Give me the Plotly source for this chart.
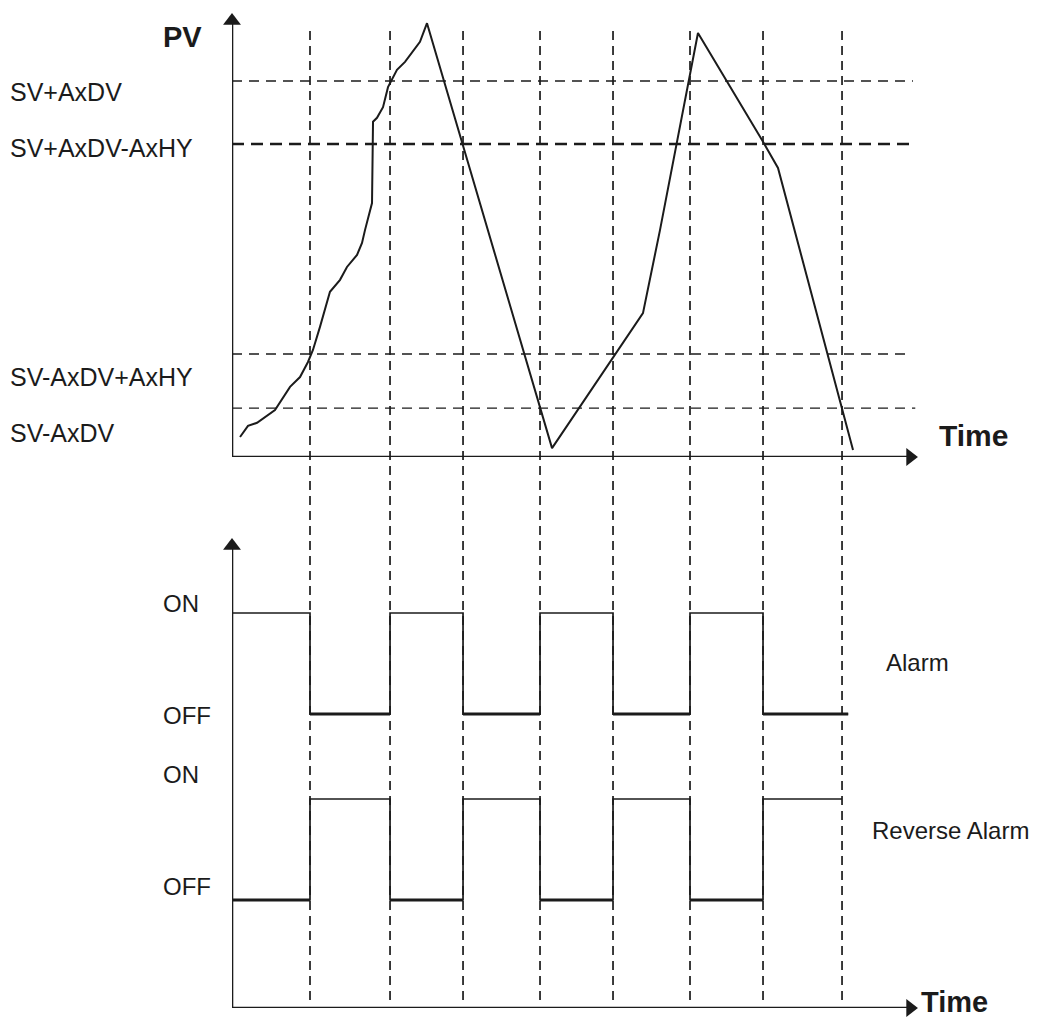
import plotly.graph_objects as go

W, H = 1049, 1023

# ---------------- data ----------------
pv_time = [1.03, 2.05, 3.21, 5.51, 7.44, 8.72, 9.74, 10.38, 11.28, 12.56, 13.85,
           14.74, 16.03, 16.67, 17.05, 17.95, 18.08, 18.59, 19.36, 20.0, 21.15,
           22.18, 24.10, 25.0, 41.03, 52.69, 54.87, 59.74, 67.95, 70.0, 79.62]
pv_value = [4.5, 7.0, 7.7, 10.6, 15.8, 18.0, 21.4, 24.1, 29.3, 37.2, 39.9,
            42.8, 45.5, 48.2, 51.1, 57.2, 75.5, 76.4, 78.8, 83.3, 87.2,
            89.0, 93.5, 97.7, 2.0, 32.4, 51.1, 95.5, 71.4, 65.1, 1.6]

threshold_labels = ["SV+AxDV", "SV+AxDV-AxHY", "SV-AxDV+AxHY", "SV-AxDV"]
threshold_values = [84.7, 70.5, 23.2, 11.0]

switch_times = [10.0, 20.26, 29.62, 39.49, 48.85, 58.72, 68.08, 78.21]

alarm_time = [0, 10.0, 20.26, 29.62, 39.49, 48.85, 58.72, 68.08, 79.0]
alarm_state = [1, 0, 1, 0, 1, 0, 1, 0, 0]
reverse_time = [0, 10.0, 20.26, 29.62, 39.49, 48.85, 58.72, 68.08, 78.21]
reverse_state = [0, 1, 0, 1, 0, 1, 0, 1, 1]

state_labels = ["ON", "OFF"]
signal_names = ["Alarm", "Reverse Alarm"]

# ---------------- styles ----------------
INK = "#1b1b1b"
FONT = "Liberation Sans, Arial, sans-serif"
thr_end = [87.3, 86.9, 86.5, 87.6]
thr_width = [1.4, 2.7, 1.4, 1.4]
thr_dash = ["10px,7px", "12px,7px", "10px,7px", "10px,7px"]
ALARM_BASE, REV_BASE, AMP = 294, 108, 101


def px(x):
    return x / W


def py(y):
    return 1 - y / H


fig = go.Figure()

# threshold lines
for v, e, w, d in zip(threshold_values, thr_end, thr_width, thr_dash):
    fig.add_trace(go.Scatter(x=[0, e], y=[v, v], mode="lines",
                             line=dict(color=INK, width=w, dash=d),
                             xaxis="x", yaxis="y", hoverinfo="skip"))

# PV curve
fig.add_trace(go.Scatter(x=pv_time, y=pv_value, mode="lines",
                         line=dict(color=INK, width=2),
                         xaxis="x", yaxis="y", hoverinfo="skip"))


# alarm signals (step)
def step(ts, ss, base):
    ys = [base + s * AMP for s in ss]
    fig.add_trace(go.Scatter(x=ts, y=ys, mode="lines", line_shape="hv",
                             line=dict(color=INK, width=1.7),
                             xaxis="x2", yaxis="y2", hoverinfo="skip"))
    # thicker OFF segments
    xs, yy = [], []
    for i in range(len(ts) - 1):
        if ss[i] == 0:
            xs += [ts[i], ts[i + 1], None]
            yy += [base, base, None]
    fig.add_trace(go.Scatter(x=xs, y=yy, mode="lines",
                             line=dict(color=INK, width=2.8),
                             xaxis="x2", yaxis="y2", hoverinfo="skip"))


step(alarm_time, alarm_state, ALARM_BASE)
step(reverse_time, reverse_state, REV_BASE)


# axes with arrows
def axis_arrow(xs, ys, xa, ya, sym):
    fig.add_trace(go.Scatter(x=xs, y=ys, mode="lines",
                             line=dict(color=INK, width=2.6),
                             xaxis=xa, yaxis=ya, hoverinfo="skip",
                             cliponaxis=False))
    fig.add_trace(go.Scatter(x=[xs[-1]], y=[ys[-1]], mode="markers",
                             marker=dict(symbol=sym, size=15.5, color=INK,
                                         line=dict(width=0)),
                             xaxis=xa, yaxis=ya, hoverinfo="skip",
                             cliponaxis=False))


axis_arrow([0, 86.95], [0, 0], "x", "y", "triangle-right")
axis_arrow([0, 0], [0, 98.25], "x", "y", "triangle-up")
axis_arrow([0, 86.95], [0, 0], "x2", "y2", "triangle-right")
axis_arrow([0, 0], [0, 462.25], "x2", "y2", "triangle-up")

# vertical dashed switching lines
for t in switch_times:
    fig.add_shape(type="line", xref="x", yref="paper", x0=t, x1=t,
                  y0=py(1000), y1=py(28),
                  line=dict(color=INK, width=1.7, dash="9px,6px"))


# text
def label(text, x, y, size, bold=False):
    fig.add_annotation(text=f"<b>{text}</b>" if bold else text,
                       x=px(x), y=py(y), xref="paper", yref="paper",
                       xanchor="left", yanchor="middle", showarrow=False,
                       font=dict(family=FONT, size=size, color=INK))


label("PV", 161, 37, 29, bold=True)
for lab, yy in zip(threshold_labels, [92, 148, 377, 433]):
    label(lab, 8, yy, 25)
label("Time", 937, 435, 30, bold=True)
label("Time", 919, 1002, 29, bold=True)
for lab, yy in zip(state_labels * 2, [603, 715, 774, 886]):
    label(lab, 161, yy, 24)
label(signal_names[0], 884, 662, 24)
label(signal_names[1], 870, 830, 24)

ax_common = dict(visible=False, fixedrange=True)
fig.update_layout(
    width=W, height=H,
    margin=dict(l=0, r=0, t=0, b=0),
    paper_bgcolor="white", plot_bgcolor="white",
    showlegend=False,
    xaxis=dict(domain=[px(232), px(918)], range=[0, 87.95], anchor="y", **ax_common),
    yaxis=dict(domain=[py(457), py(13)], range=[0, 100], anchor="x", **ax_common),
    xaxis2=dict(domain=[px(232), px(918)], range=[0, 87.95], anchor="y2", **ax_common),
    yaxis2=dict(domain=[py(1008), py(538)], range=[0, 470], anchor="x2", **ax_common),
)

fig.write_html("out.html", config={"displayModeBar": False},
               post_script="document.body.style.margin='0';"
                           "document.body.style.overflow='hidden';")
